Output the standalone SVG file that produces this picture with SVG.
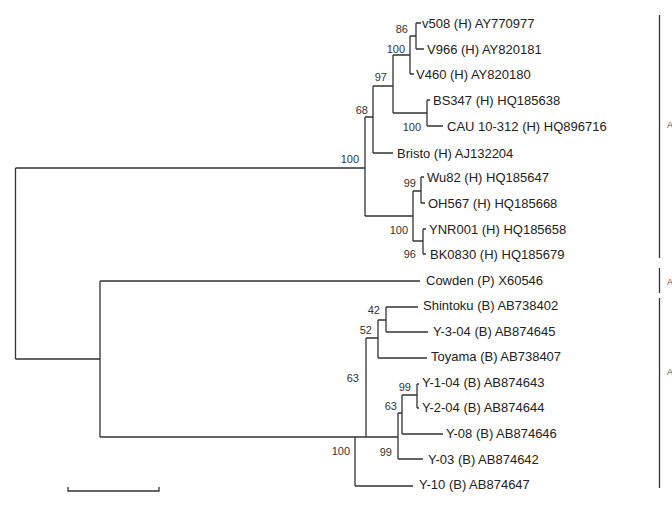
<svg xmlns="http://www.w3.org/2000/svg" width="672" height="523" viewBox="0 0 672 523">
<style>
.e{stroke:#333;stroke-width:1.3;fill:none}
.l{font-family:"Liberation Sans",Arial,sans-serif;font-size:13px;fill:#222}
.b{font-family:"Liberation Sans",Arial,sans-serif;font-size:11px;fill:#333;text-anchor:end}
.c{font-family:"Liberation Sans",Arial,sans-serif;font-size:9px;fill:#555}
</style>
<rect width="672" height="523" fill="#fff"/>
<g id="edges">
<path class="e" d="M15.5 168V359M15.5 168H365M15.5 359H100
M365 117V216M365 117H373M365 216H413
M373 86V153M373 86H393M373 153H393
M393 55V113M393 55H410M393 113H427
M410 36V74M410 36H416M410 74H414
M416 23V49M416 23H421M416 49H424
M427 100V126M427 100H430M427 126H443
M413 191V241M413 191H421M413 241H423
M421 177V203M421 177H424M421 203H425
M423 229V254M423 229H426M423 254H426
M100 281V437M100 281H420M100 437H355
M355 437V486M355 437H366M355 486H413
M366 338V437M366 338H378M366 437H398
M378 320V358M378 320H386M378 358H427
M386 307V332M386 307H418M386 332H428
M398 413V459M398 413H402M398 459H423
M402 395V434M402 395H417M402 434H443
M417 384V408M417 384H419M417 408H419
M68 487V491H159V487
M659.5 15V258M659.5 268V293M659.5 298V488"/>
</g>
<g id="leaves">
<text class="l" x="422" y="28">v508 (H) AY770977</text>
<text class="l" x="427" y="54">V966 (H) AY820181</text>
<text class="l" x="416" y="79">V460 (H) AY820180</text>
<text class="l" x="433" y="105">BS347 (H) HQ185638</text>
<text class="l" x="447" y="131">CAU 10-312 (H) HQ896716</text>
<text class="l" x="397" y="158">Bristo (H) AJ132204</text>
<text class="l" x="427" y="182">Wu82 (H) HQ185647</text>
<text class="l" x="428" y="208">OH567 (H) HQ185668</text>
<text class="l" x="429" y="234">YNR001 (H) HQ185658</text>
<text class="l" x="430" y="259">BK0830 (H) HQ185679</text>
<text class="l" x="426" y="285">Cowden (P) X60546</text>
<text class="l" x="423" y="310">Shintoku (B) AB738402</text>
<text class="l" x="433" y="336">Y-3-04 (B) AB874645</text>
<text class="l" x="431" y="361">Toyama (B) AB738407</text>
<text class="l" x="422" y="387">Y-1-04 (B) AB874643</text>
<text class="l" x="422" y="412">Y-2-04 (B) AB874644</text>
<text class="l" x="446" y="438">Y-08 (B) AB874646</text>
<text class="l" x="428" y="464">Y-03 (B) AB874642</text>
<text class="l" x="419" y="489">Y-10 (B) AB874647</text>
</g>
<g id="bootstrap">
<text class="b" x="408" y="33">86</text>
<text class="b" x="405" y="53">100</text>
<text class="b" x="387" y="81">97</text>
<text class="b" x="368" y="114">68</text>
<text class="b" x="421" y="131">100</text>
<text class="b" x="359" y="163">100</text>
<text class="b" x="416" y="187">99</text>
<text class="b" x="408" y="234">100</text>
<text class="b" x="416" y="258">96</text>
<text class="b" x="380" y="314">42</text>
<text class="b" x="372" y="334">52</text>
<text class="b" x="359" y="382">63</text>
<text class="b" x="411" y="391">99</text>
<text class="b" x="397" y="410">63</text>
<text class="b" x="392" y="456">99</text>
<text class="b" x="350" y="455">100</text>
</g>
<g id="clades">
<text class="c" x="667" y="128">A</text>
<text class="c" x="667" y="285">A</text>
<text class="c" x="667" y="375">A</text>
</g>
</svg>
